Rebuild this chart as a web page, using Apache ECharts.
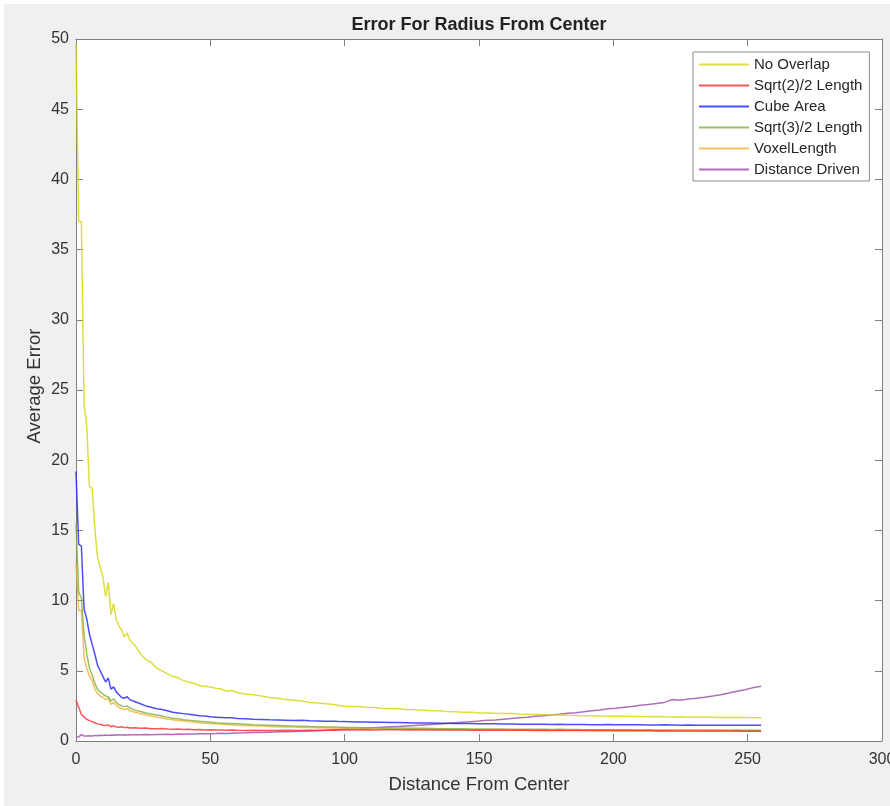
<!DOCTYPE html>
<html>
<head>
<meta charset="utf-8">
<script src="https://cdn.jsdelivr.net/npm/echarts@6/dist/echarts.min.js"></script>
<style>
html,body{margin:0;padding:0;background:#ffffff;overflow:hidden;}
#chart{width:890px;height:806px;}
</style>
</head>
<body>
<div id="chart"></div>
<script>
const title = 'Error For Radius From Center';
const xAxisName = 'Distance From Center';
const yAxisName = 'Average Error';
const xTicks = [0, 50, 100, 150, 200, 250, 300];
const yTicks = [0, 5, 10, 15, 20, 25, 30, 35, 40, 45, 50];
const seriesNames = ['No Overlap', 'Sqrt(2)/2 Length', 'Cube Area', 'Sqrt(3)/2 Length', 'VoxelLength', 'Distance Driven'];

const xs = [0,1,2,3,4,5,6,7,8,9,10,11,12,13,14,15,16,17,18,19,20,
22,24,26,28,30,32,34,36,38,40,42,44,46,48,50,52,54,56,58,60,
63,66,69,72,75,78,81,84,87,90,93,96,99,102,105,108,111,114,117,120,
123,126,129,132,135,138,141,144,147,150,153,156,159,162,165,168,171,174,177,180,
183,186,189,192,195,198,201,204,207,210,213,216,219,222,225,228,231,234,237,240,
243,246,249,252,255];

const noOverlap = [49.6,37.0,37.0,24.0,22.4,18.1,18.0,15.2,13.1,12.4,11.7,10.3,11.3,9.0,9.8,8.6,8.2,7.9,7.4,7.7,7.2,
6.8,6.2,5.8,5.6,5.2,5.0,4.8,4.6,4.5,4.3,4.2,4.1,3.95,3.9,3.85,3.75,3.7,3.55,3.6,3.45,
3.35,3.3,3.2,3.1,3.05,2.95,2.9,2.85,2.75,2.7,2.65,2.6,2.5,2.45,2.45,2.4,2.38,2.32,2.3,2.3,
2.25,2.22,2.2,2.15,2.15,2.1,2.08,2.05,2.05,2.0,2.0,1.98,1.95,1.95,1.92,1.9,1.88,1.88,1.85,1.85,
1.83,1.82,1.8,1.8,1.78,1.77,1.76,1.76,1.75,1.74,1.73,1.74,1.72,1.71,1.72,1.7,1.7,1.69,1.7,1.68,
1.68,1.67,1.67,1.66,1.65];

const sqrt2Length = [2.9,2.4,1.9,1.7,1.55,1.45,1.38,1.3,1.22,1.2,1.12,1.1,1.15,1.02,1.08,1.0,0.98,1.02,0.95,0.98,0.93,
0.95,0.9,0.92,0.88,0.87,0.89,0.85,0.84,0.86,0.82,0.83,0.8,0.82,0.79,0.8,0.78,0.79,0.76,0.78,0.76,
0.75,0.76,0.74,0.75,0.74,0.76,0.74,0.75,0.76,0.75,0.77,0.76,0.78,0.79,0.78,0.8,0.79,0.81,0.8,0.8,
0.79,0.8,0.79,0.79,0.78,0.79,0.78,0.78,0.77,0.78,0.77,0.77,0.76,0.77,0.76,0.76,0.75,0.76,0.75,0.75,
0.75,0.74,0.75,0.74,0.74,0.74,0.73,0.74,0.73,0.73,0.73,0.72,0.73,0.72,0.72,0.72,0.72,0.71,0.72,0.71,
0.71,0.71,0.7,0.71,0.7];

const cubeArea = [19.2,14.0,13.9,9.4,8.7,7.6,6.9,6.2,5.4,5.0,4.6,4.2,4.5,3.7,3.85,3.5,3.3,3.1,3.05,3.15,2.95,
2.8,2.65,2.5,2.4,2.3,2.25,2.15,2.05,2.0,1.95,1.9,1.85,1.8,1.78,1.72,1.7,1.68,1.65,1.66,1.6,
1.58,1.55,1.53,1.51,1.5,1.48,1.46,1.47,1.44,1.43,1.41,1.4,1.38,1.37,1.36,1.35,1.34,1.33,1.32,1.31,
1.3,1.29,1.28,1.28,1.27,1.26,1.25,1.24,1.24,1.23,1.22,1.22,1.21,1.21,1.2,1.2,1.19,1.19,1.18,1.2,
1.18,1.17,1.17,1.16,1.16,1.17,1.15,1.15,1.15,1.16,1.14,1.14,1.15,1.14,1.13,1.14,1.13,1.13,1.13,1.12,
1.13,1.12,1.12,1.13,1.12];

const sqrt3Length = [15.5,10.6,10.2,7.6,6.2,5.2,4.7,4.1,3.7,3.5,3.35,3.2,3.15,2.85,3.0,2.75,2.6,2.5,2.45,2.5,2.35,
2.2,2.1,2.0,1.92,1.85,1.78,1.7,1.62,1.58,1.52,1.48,1.44,1.4,1.37,1.34,1.3,1.28,1.25,1.24,1.22,
1.19,1.16,1.14,1.12,1.1,1.08,1.06,1.05,1.03,1.02,1.0,0.99,0.98,0.97,0.96,0.95,0.94,0.93,0.92,0.92,
0.91,0.9,0.9,0.89,0.88,0.88,0.87,0.87,0.86,0.86,0.85,0.85,0.85,0.84,0.84,0.83,0.83,0.83,0.82,0.84,
0.82,0.82,0.81,0.81,0.81,0.8,0.8,0.8,0.8,0.79,0.8,0.79,0.79,0.79,0.78,0.79,0.78,0.78,0.78,0.78,
0.77,0.78,0.77,0.77,0.77];

const voxelLength = [12.7,9.3,9.3,5.9,5.2,4.6,4.3,3.7,3.4,3.2,3.1,2.95,3.05,2.6,2.75,2.55,2.4,2.3,2.25,2.3,2.15,
2.05,1.95,1.85,1.78,1.7,1.64,1.57,1.52,1.46,1.42,1.38,1.34,1.3,1.27,1.25,1.22,1.19,1.17,1.16,1.13,
1.11,1.08,1.06,1.04,1.02,1.0,0.99,0.97,0.96,0.95,0.93,0.92,0.91,0.9,0.89,0.88,0.87,0.87,0.86,0.85,
0.85,0.84,0.83,0.83,0.82,0.82,0.81,0.81,0.8,0.8,0.8,0.79,0.79,0.78,0.78,0.78,0.77,0.77,0.77,0.78,
0.76,0.76,0.76,0.75,0.75,0.75,0.75,0.74,0.74,0.74,0.74,0.73,0.74,0.73,0.73,0.73,0.73,0.72,0.73,0.72,
0.72,0.72,0.72,0.71,0.72];

const distanceDriven = [0.28,0.3,0.45,0.35,0.36,0.38,0.36,0.4,0.38,0.41,0.4,0.42,0.4,0.43,0.41,0.44,0.42,0.43,0.45,0.43,0.44,
0.45,0.44,0.46,0.45,0.47,0.46,0.48,0.47,0.49,0.48,0.5,0.5,0.51,0.52,0.52,0.53,0.55,0.54,0.56,0.57,
0.58,0.6,0.61,0.63,0.65,0.66,0.68,0.7,0.72,0.75,0.77,0.8,0.83,0.86,0.88,0.92,0.95,0.98,1.01,1.04,
1.07,1.1,1.14,1.17,1.21,1.25,1.3,1.34,1.38,1.42,1.47,1.5,1.55,1.6,1.65,1.7,1.76,1.8,1.86,1.9,
1.98,2.02,2.08,2.15,2.2,2.3,2.33,2.4,2.45,2.55,2.6,2.67,2.75,2.95,2.9,3.0,3.05,3.12,3.2,3.3,
3.42,3.55,3.65,3.8,3.9];

const seriesValues = [noOverlap, sqrt2Length, cubeArea, sqrt3Length, voxelLength, distanceDriven];
const colors = ['#d6d610', '#ff2a2a', '#2020ff', '#80b040', '#f0b030', '#9a4aa8'];

function pairs(vals) {
  const n = Math.min(xs.length, vals.length);
  const out = [];
  for (let i = 0; i < n; i++) out.push([xs[i], vals[i]]);
  return out;
}

const axisColor = '#808080';
const labelColor = '#333333';
const fontFamily = 'Liberation Sans, Arial, sans-serif';

const chart = echarts.init(document.getElementById('chart'), null, {renderer: 'canvas'});
const option = {
  backgroundColor: '#ffffff',
  animation: false,
  graphic: [
    {type: 'rect', z: -10, silent: true, shape: {x: 4, y: 4, width: 886, height: 802}, style: {fill: '#f0f0f0'}},
    {type: 'rect', z: -9, silent: true, shape: {x: 76, y: 39, width: 806, height: 702}, style: {fill: '#ffffff'}},
    {
      type: 'text', silent: true, z: 5,
      x: 35, y: 386, rotation: Math.PI / 2,
      style: {text: yAxisName, fill: labelColor, font: '18.5px Liberation Sans, Arial, sans-serif', align: 'center', verticalAlign: 'middle'}
    }
  ],
  title: {
    text: title,
    left: 474,
    textAlign: 'center',
    top: 11,
    textStyle: {fontFamily: fontFamily, fontSize: 18, fontWeight: 'bold', color: '#222222'}
  },
  legend: {
    orient: 'vertical',
    left: 693,
    top: 52,
    padding: [5, 7, 4, 5],
    itemWidth: 50,
    itemHeight: 15,
    itemGap: 6,
    backgroundColor: '#ffffff',
    borderColor: '#8c8c8c',
    borderWidth: 1,
    data: seriesNames,
    itemStyle: {opacity: 0, borderWidth: 0},
    textStyle: {fontFamily: fontFamily, fontSize: 15, color: '#262626', lineHeight: 15}
  },
  grid: {left: 76, right: 8, top: 39, bottom: 65, containLabel: false, outerBoundsMode: 'none'},
  xAxis: [
    {
      type: 'value', min: 0, max: 300, interval: 50,
      name: xAxisName, nameLocation: 'middle', nameGap: 34,
      nameTextStyle: {fontFamily: fontFamily, fontSize: 18.5, color: labelColor},
      axisLine: {show: true, onZero: false, lineStyle: {color: axisColor, width: 1}},
      axisTick: {show: true, inside: true, length: 7, lineStyle: {color: axisColor}},
      axisLabel: {fontFamily: fontFamily, fontSize: 16, color: labelColor, margin: 11},
      splitLine: {show: false}
    },
    {
      type: 'value', min: 0, max: 300, interval: 50, position: 'top',
      axisLine: {show: true, onZero: false, lineStyle: {color: axisColor, width: 1}},
      axisTick: {show: true, inside: true, length: 7, lineStyle: {color: axisColor}},
      axisLabel: {show: false},
      splitLine: {show: false}
    }
  ],
  yAxis: [
    {
      type: 'value', min: 0, max: 50, interval: 5,
      axisLine: {show: true, onZero: false, lineStyle: {color: axisColor, width: 1}},
      axisTick: {show: true, inside: true, length: 7, lineStyle: {color: axisColor}},
      axisLabel: {fontFamily: fontFamily, fontSize: 16, color: labelColor, margin: 7},
      splitLine: {show: false}
    },
    {
      type: 'value', min: 0, max: 50, interval: 5, position: 'right',
      axisLine: {show: true, onZero: false, lineStyle: {color: axisColor, width: 1}},
      axisTick: {show: true, inside: true, length: 7, lineStyle: {color: axisColor}},
      axisLabel: {show: false},
      splitLine: {show: false}
    }
  ],
  series: seriesNames.map((name, i) => ({
    name: name,
    type: 'line',
    xAxisIndex: 0,
    yAxisIndex: 0,
    data: pairs(seriesValues[i]),
    symbol: 'none',
    showSymbol: false,
    color: colors[i],
    lineStyle: {color: colors[i], width: 1.5, opacity: 0.8},
    z: 10 - i
  }))
};
chart.setOption(option);
</script>
</body>
</html>
